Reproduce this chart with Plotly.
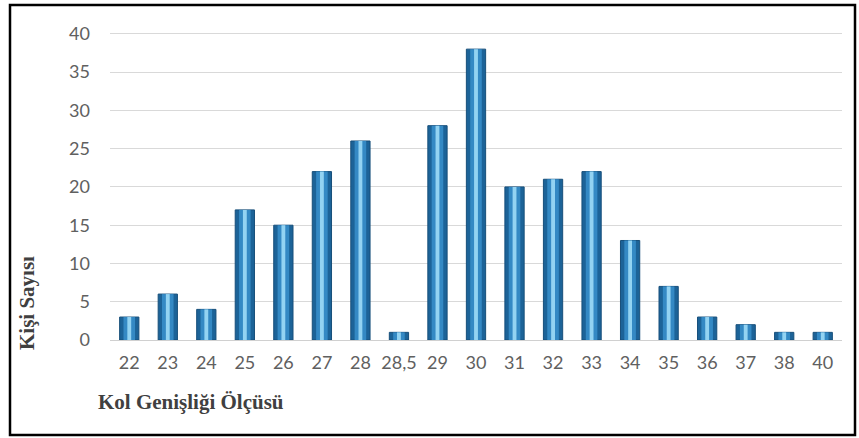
import plotly.graph_objects as go

categories = ["22", "23", "24", "25", "26", "27", "28", "28,5", "29", "30",
              "31", "32", "33", "34", "35", "36", "37", "38", "40"]
counts = [3, 6, 4, 17, 15, 22, 26, 1, 28, 38, 20, 21, 22, 13, 7, 3, 2, 1, 1]

y_ticks = [0, 5, 10, 15, 20, 25, 30, 35, 40]

W, H = 859, 438
ml, mr, mt, mb = 110, 17, 30, 98
pw, ph = W - ml - mr, H - mt - mb

def px_x(p):
    return (p - ml) / pw

def px_y(p):
    return (H - mb - p) / ph

fig = go.Figure()
fig.add_trace(go.Bar(
    x=categories, y=counts, width=0.5,
    marker=dict(color="#1c6398", line=dict(color="#174f7a", width=1)),
    hoverinfo="skip", showlegend=False,
))
fig.add_trace(go.Bar(
    x=categories, y=counts, width=0.3,
    marker=dict(color="#3489c4", line=dict(width=0)),
    hoverinfo="skip", showlegend=False,
))
fig.add_trace(go.Bar(
    x=categories, y=counts, width=0.1,
    marker=dict(color="#93d3f2", line=dict(width=0)),
    hoverinfo="skip", showlegend=False,
))

fig.update_layout(
    width=W, height=H,
    margin=dict(l=ml, r=mr, t=mt, b=mb),
    paper_bgcolor="white", plot_bgcolor="white",
    barmode="overlay",
    font=dict(family="Lato, Open Sans, sans-serif", color="#606060", size=18),
    xaxis=dict(
        type="category", showgrid=False, showline=False, zeroline=False,
        ticks="", ticklabelstandoff=10, tickfont=dict(size=18, color="#606060"),
    ),
    yaxis=dict(
        range=[0, 40.5], tickvals=y_ticks, showgrid=True, gridcolor="#d9d9d9",
        gridwidth=1, zeroline=True, zerolinecolor="#d0d0d0", zerolinewidth=1,
        showline=False, ticks="", ticklabelstandoff=19,
        tickfont=dict(size=18, color="#606060"),
    ),
    shapes=[dict(
        type="rect", xref="paper", yref="paper",
        x0=px_x(10), x1=px_x(855), y0=px_y(435), y1=px_y(5),
        line=dict(color="black", width=2.5), fillcolor="rgba(0,0,0,0)",
        layer="below",
    )],
    annotations=[
        dict(text="<b>Kişi Sayısı</b>", textangle=-90, xref="paper", yref="paper",
             x=px_x(27), y=px_y(303), showarrow=False, xanchor="center", yanchor="middle",
             font=dict(family="Liberation Serif, Times New Roman, serif", size=21, color="#404040")),
        dict(text="<b>Kol Genişliği Ölçüsü</b>", xref="paper", yref="paper",
             x=px_x(96), y=px_y(402), showarrow=False, xanchor="left", yanchor="middle",
             font=dict(family="Liberation Serif, Times New Roman, serif", size=21, color="#404040")),
    ],
)

fig.write_html("out.html", config={"displayModeBar": False},
               post_script="document.body.style.margin='0';document.body.style.padding='0';")
